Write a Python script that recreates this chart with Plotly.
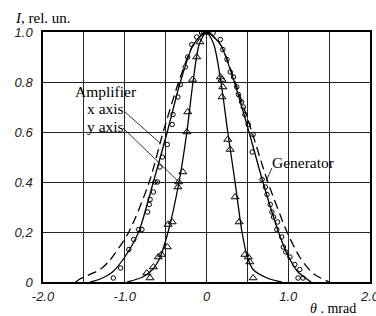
import plotly.graph_objects as go

# ---- data ----
# fitted curves
x_fit_theta = [-1.42, -1.3, -1.15, -1.0, -0.83, -0.65, -0.48, -0.32, -0.16, 0.0, 0.17, 0.34, 0.52, 0.69, 0.88, 0.99, 1.12, 1.28]
x_fit_I     = [0.0, 0.012, 0.04, 0.1, 0.2, 0.4, 0.6, 0.8, 0.95, 1.0, 0.95, 0.8, 0.6, 0.4, 0.2, 0.11, 0.04, 0.0]

gen_theta = [-1.6, -1.55, -1.3, -1.18, -0.95, -0.70, -0.53, -0.34, -0.16, 0.0, 0.17, 0.35, 0.556, 0.75, 0.985, 1.14, 1.3, 1.5]
gen_I     = [0.0, 0.012, 0.05, 0.088, 0.2, 0.4, 0.6, 0.8, 0.95, 1.0, 0.95, 0.8, 0.6, 0.4, 0.2, 0.1, 0.035, 0.0]

y_fit_theta = [-0.97, -0.78, -0.66, -0.58, -0.47, -0.336, -0.24, -0.165, -0.09, 0.0, 0.09, 0.177, 0.26, 0.349, 0.434, 0.50, 0.57, 0.74, 0.92]
y_fit_I     = [0.0, 0.02, 0.05, 0.09, 0.2, 0.4, 0.6, 0.8, 0.95, 1.0, 0.95, 0.8, 0.6, 0.4, 0.2, 0.1, 0.05, 0.016, 0.0]

# measured points, amplifier x axis (circles)
circ_theta = [-1.14, -1.05, -0.95, -0.89, -0.83, -0.79, -0.72, -0.70, -0.69, -0.65, -0.63, -0.60, -0.57, -0.54,
              -0.48, -0.42, -0.41, -0.35, -0.32, -0.26, -0.23, -0.18, -0.12, -0.06, 0.0,
              0.08, 0.17, 0.20, 0.25, 0.29, 0.33, 0.37, 0.39, 0.43, 0.45, 0.47, 0.51, 0.57, 0.56,
              0.68, 0.72, 0.74, 0.78, 0.80, 0.82, 0.87, 0.86, 0.92, 0.94, 0.97, 1.02, 1.08, 1.14, 1.12, 1.18]
circ_I     = [0.016, 0.056, 0.13, 0.17, 0.21, 0.21, 0.28, 0.31, 0.33, 0.36, 0.40, 0.40, 0.46, 0.50,
              0.55, 0.63, 0.67, 0.74, 0.79, 0.86, 0.90, 0.95, 0.98, 0.996, 1.0,
              0.996, 0.97, 0.93, 0.89, 0.84, 0.82, 0.78, 0.75, 0.72, 0.70, 0.67, 0.63, 0.59, 0.52,
              0.41, 0.38, 0.35, 0.31, 0.28, 0.26, 0.24, 0.21, 0.18, 0.14, 0.12, 0.10, 0.07, 0.05, 0.016, 0.016]

# measured points, amplifier y axis (triangles)
tri_theta = [-0.69, -0.73, -0.65, -0.59, -0.55, -0.48, -0.47, -0.42, -0.35, -0.34, -0.29,
             -0.24, -0.23, -0.17, -0.12, -0.08, -0.02, 0.0,
             0.17, 0.19, 0.20, 0.19, 0.26, 0.29, 0.35, 0.40, 0.47, 0.51, 0.53, 0.57]
tri_I     = [0.016, 0.036, 0.06, 0.10, 0.11, 0.14, 0.23, 0.24, 0.38, 0.40, 0.44,
             0.60, 0.68, 0.81, 0.90, 0.96, 1.0, 1.0,
             0.82, 0.81, 0.78, 0.74, 0.57, 0.53, 0.34, 0.24, 0.11, 0.10, 0.08, 0.016]

x_tickvals = [-2.0, -1.5, -1.0, -0.5, 0.0, 0.5, 1.0, 1.5, 2.0]
x_ticktext = ["-2.0", "", "-1.0", "", "0", "", "1.0", "", "2.0"]
y_tickvals = [0.0, 0.2, 0.4, 0.6, 0.8, 1.0]
y_ticktext = ["0", "0,2", "0.4", "0.6", "0.8", "1.0"]

fig = go.Figure()
line_style = dict(color="black", width=1.3, shape="spline", smoothing=0.7)
fig.add_trace(go.Scatter(x=gen_theta, y=gen_I, mode="lines",
                         line=dict(color="black", width=1.3, dash="9px,5px", shape="spline", smoothing=0.7)))
fig.add_trace(go.Scatter(x=x_fit_theta, y=x_fit_I, mode="lines", line=line_style))
fig.add_trace(go.Scatter(x=y_fit_theta, y=y_fit_I, mode="lines", line=line_style))
fig.add_trace(go.Scatter(x=circ_theta, y=circ_I, mode="markers",
                         marker=dict(symbol="circle-open", size=4.5, color="black", line=dict(width=1))))
fig.add_trace(go.Scatter(x=tri_theta, y=tri_I, mode="markers",
                         marker=dict(symbol="triangle-up-open", size=7, color="black", line=dict(width=1))))

serif = "Liberation Serif"
tickfont = dict(family="Liberation Sans", size=13, color="#222", style="italic")

fig.update_layout(
    width=376, height=316,
    margin=dict(l=43, r=6, t=32, b=34),
    paper_bgcolor="white", plot_bgcolor="white",
    showlegend=False,
    xaxis=dict(range=[-2, 2], tickvals=x_tickvals, ticktext=x_ticktext, showgrid=True,
               gridcolor="#222", gridwidth=1, zeroline=False, showline=True, linecolor="black",
               linewidth=1.5, mirror=True, ticks="", tickfont=tickfont, ticklabelstandoff=2,
               automargin=False, ticklabeloverflow="allow"),
    yaxis=dict(range=[0, 1], tickvals=y_tickvals, ticktext=y_ticktext, showgrid=True,
               gridcolor="#222", gridwidth=1, zeroline=False, showline=True, linecolor="black",
               linewidth=1.5, mirror=True, ticks="", tickfont=tickfont, ticklabelstandoff=6,
               automargin=False, ticklabeloverflow="allow"),
    shapes=[
        dict(type="line", xref="x", yref="y", x0=-0.997, y0=0.68, x1=-0.569, y1=0.556,
             line=dict(color="black", width=0.8)),
        dict(type="line", xref="x", yref="y", x0=-1.021, y0=0.616, x1=-0.324, y1=0.396,
             line=dict(color="black", width=0.8)),
        dict(type="line", xref="x", yref="y", x0=0.80, y0=0.456, x1=0.73, y1=0.404,
             line=dict(color="black", width=0.8)),
    ],
    annotations=[
        dict(xref="paper", yref="paper", x=(13 - 43)/327, y=1 + 14/250, xanchor="left", yanchor="middle",
             text="<i>I</i>, rel. un.", showarrow=False, font=dict(family=serif, size=15, color="black")),
        dict(xref="paper", yref="paper", x=(333 - 43)/327, y=-26/250, xanchor="center", yanchor="middle",
             text="<i>θ</i> . mrad", showarrow=False, font=dict(family=serif, size=14, color="black")),
        dict(xref="x", yref="y", x=-1.23, y=0.764, xanchor="center", yanchor="middle",
             text="Amplifier", showarrow=False, font=dict(family=serif, size=15.5, color="black")),
        dict(xref="x", yref="y", x=-1.24, y=0.696, xanchor="center", yanchor="middle",
             text="x axis", showarrow=False, font=dict(family=serif, size=15.5, color="black")),
        dict(xref="x", yref="y", x=-1.24, y=0.624, xanchor="center", yanchor="middle",
             text="y axis", showarrow=False, font=dict(family=serif, size=15.5, color="black")),
        dict(xref="x", yref="y", x=1.19, y=0.48, xanchor="center", yanchor="middle",
             text="Generator", showarrow=False, font=dict(family=serif, size=15.5, color="black")),
    ],
)

fig.write_html("out.html", config={"displayModeBar": False},
               post_script="document.body.style.margin='0';document.body.style.overflow='hidden';")
